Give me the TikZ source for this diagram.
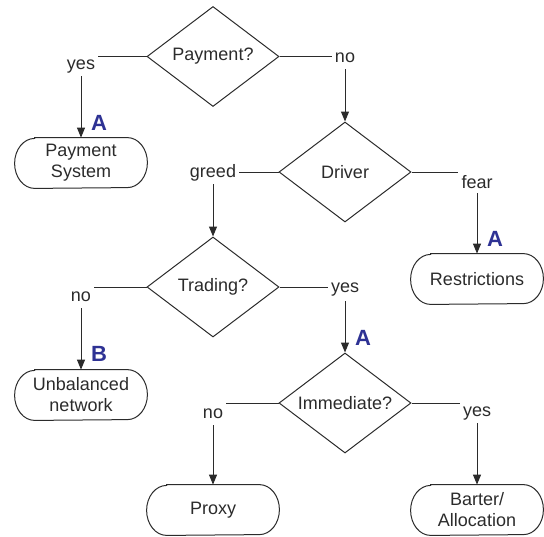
\documentclass[tikz,border=0pt]{standalone}
\usepackage{fontspec}
\setmainfont{Liberation Sans}
\usetikzlibrary{shapes.geometric,arrows.meta}
\definecolor{ink}{HTML}{2B2B2B}
\definecolor{lbl}{RGB}{46,50,148}
\begin{document}
\begin{tikzpicture}[x=0.5pt,y=-0.5pt,
  every node/.style={font=\fontsize{9}{10.5}\selectfont, text=ink},
  decision/.style={draw=ink, line width=0.5pt, shape=diamond, aspect=1.32, inner sep=0pt, minimum width=66pt, minimum height=50pt},
  terminal/.style={rectangle, minimum width=66pt, minimum height=25pt, inner sep=0pt, align=center},
  outline/.style={draw=ink, line width=0.5pt},
  branch/.style={inner xsep=1.5pt, inner ysep=0pt, anchor=mid},
  conn/.style={draw=ink, line width=0.5pt},
  arr/.style={conn, -{Triangle[length=5pt,width=4pt]}},
  flowtag/.style={font=\fontsize{11}{13}\selectfont\bfseries, text=lbl, inner sep=0pt}
]
\useasboundingbox (0,0) rectangle (544,536);

% main shapes
\node[decision] (pay) at (213,56.5) {Payment?};
\node[terminal] (paysys) at (81,163) {Payment\\System};
\node[decision] (drv) at (345,172) {Driver};
\node[terminal] (restr) at (477,279) {Restrictions};
\node[decision] (trd) at (213,287) {Trading?};
\node[terminal] (unbal) at (81,395) {Unbalanced\\network};
\node[decision] (imm) at (345,403) {Immediate?};
\node[terminal] (proxy) at (213,510) {Proxy};
\node[terminal] (barter) at (477,510) {Barter/\\Allocation};

% terminal outlines: straight sides with elliptical ends
\foreach \t in {paysys,restr,unbal,proxy,barter}{
  \draw[outline] ([xshift=10pt]\t.north west) -- ([xshift=-10pt]\t.north east)
    arc[start angle=90, end angle=-90, x radius=10pt, y radius=12.5pt]
    -- ([xshift=10pt]\t.south west)
    arc[start angle=270, end angle=90, x radius=10pt, y radius=12.5pt] -- cycle;
}

% branch labels
\node[branch] (pyes) at (81,64) {yes};
\node[branch] (pno) at (345,57) {no};
\node[branch] (dgreed) at (213,172) {greed};
\node[branch] (dfear) at (477,183) {fear};
\node[branch] (tno) at (81,296) {no};
\node[branch] (tyes) at (345,287) {yes};
\node[branch] (ino) at (213,413) {no};
\node[branch] (iyes) at (477,411) {yes};

% connectors
\draw[conn] (pay.west) -- (pay.west -| pyes.east);
\draw[arr] ([yshift=-6pt]pyes.mid) -- (paysys.north);
\draw[conn] (pay.east) -- (pay.east -| pno.west);
\draw[arr] ([yshift=-6pt]pno.mid) -- (drv.north);

\draw[conn] (drv.west) -- (drv.west -| dgreed.east);
\draw[arr] ([yshift=-6pt]dgreed.mid) -- (trd.north);
\draw[conn] (drv.east) -- (drv.east -| dfear.west);
\draw[arr] ([yshift=-5pt]dfear.mid) -- (restr.north);

\draw[conn] (trd.west) -- (trd.west -| tno.east);
\draw[arr] ([yshift=-6pt]tno.mid) -- (unbal.north);
\draw[conn] (trd.east) -- (trd.east -| tyes.west);
\draw[arr] ([yshift=-7pt]tyes.mid) -- (imm.north);

\draw[conn] (imm.west) -- (imm.west -| ino.east);
\draw[arr] ([yshift=-6pt]ino.mid) -- (proxy.north);
\draw[conn] (imm.east) -- (imm.east -| iyes.west);
\draw[arr] ([yshift=-6pt]iyes.mid) -- (barter.north);

% flow tags
\node[flowtag] (m1) at ([xshift=9pt,yshift=7.5pt]paysys.north) {A};
\node[flowtag] (m2) at ([xshift=9pt,yshift=7.5pt]restr.north) {A};
\node[flowtag] (m3) at ([xshift=9pt,yshift=8pt]unbal.north) {B};
\node[flowtag] (m4) at ([xshift=9pt,yshift=7.5pt]imm.north) {A};
\end{tikzpicture}
\end{document}
